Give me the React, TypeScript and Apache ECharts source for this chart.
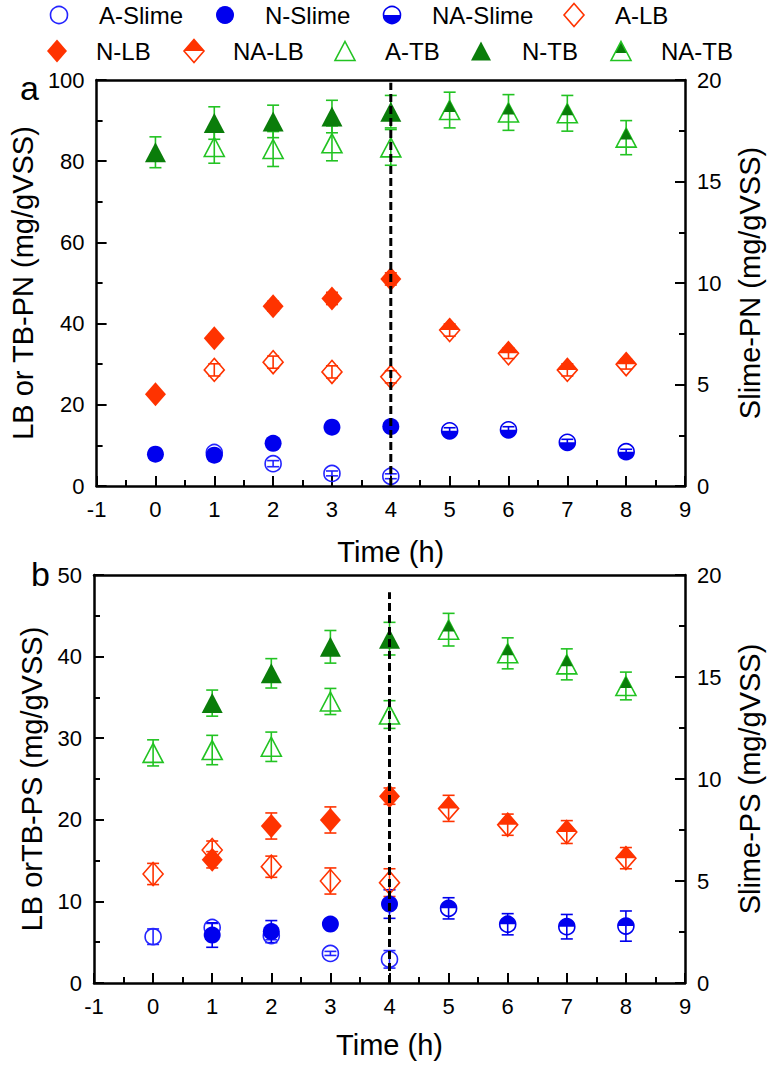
import React, { useEffect, useRef } from 'react';
import * as echarts from 'echarts';

const FONT = 'Liberation Sans, Arial, Helvetica, sans-serif';

const TIME = [0, 1, 2, 3, 4, 5, 6, 7, 8];

// Panel a: PN
const A_SLIME_PN = [null, 1.65, 1.1, 0.62, 0.48, null, null, null, null];
const A_SLIME_PN_ERR = [null, 0.12, 0.15, 0.12, 0.12, null, null, null, null];
const N_SLIME_PN = [1.57, 1.52, 2.1, 2.9, 2.93, null, null, null, null];
const N_SLIME_PN_ERR = [0.1, 0.12, 0.15, 0.12, 0.15, null, null, null, null];
const NA_SLIME_PN = [null, null, null, null, null, 2.72, 2.77, 2.15, 1.69];
const NA_SLIME_PN_ERR = [null, null, null, null, null, 0.15, 0.15, 0.15, 0.12];
const A_LB_PN = [null, 28.6, 30.5, 28.1, 26.9, null, null, null, null];
const A_LB_PN_ERR = [null, 1.5, 1.5, 1.5, 1.5, null, null, null, null];
const N_LB_PN = [22.6, 36.4, 44.3, 46.2, 51.0, null, null, null, null];
const N_LB_PN_ERR = [0.8, 1.0, 1.2, 1.5, 1.5, null, null, null, null];
const NA_LB_PN = [null, null, null, null, null, 38.4, 32.7, 28.6, 30.0];
const NA_LB_PN_ERR = [null, null, null, null, null, 1.5, 1.3, 1.5, 1.2];
const A_TB_PN = [null, 83.5, 83.0, 84.4, 83.4, null, null, null, null];
const A_TB_PN_ERR = [null, 4.0, 4.3, 4.3, 4.4, null, null, null, null];
const N_TB_PN = [82.2, 89.4, 89.8, 91.0, 92.2, null, null, null, null];
const N_TB_PN_ERR = [3.8, 4.0, 4.0, 4.0, 4.0, null, null, null, null];
const NA_TB_PN = [null, null, null, null, null, 92.6, 92.0, 91.8, 85.8];
const NA_TB_PN_ERR = [null, null, null, null, null, 4.4, 4.4, 4.4, 4.2];

// Panel b: PS
const A_SLIME_PS = [2.27, 2.72, 2.32, 1.45, 1.16, null, null, null, null];
const A_SLIME_PS_ERR = [0.38, 0.2, 0.2, 0.1, 0.43, null, null, null, null];
const N_SLIME_PS = [null, 2.35, 2.52, 2.89, 3.87, null, null, null, null];
const N_SLIME_PS_ERR = [null, 0.6, 0.54, 0.2, 0.7, null, null, null, null];
const NA_SLIME_PS = [null, null, null, null, null, 3.66, 2.88, 2.76, 2.79];
const NA_SLIME_PS_ERR = [null, null, null, null, null, 0.52, 0.52, 0.6, 0.74];
const A_LB_PS = [13.36, 16.3, 14.25, 12.5, 12.3, null, null, null, null];
const A_LB_PS_ERR = [1.3, 1.1, 1.3, 1.6, 1.7, null, null, null, null];
const N_LB_PS = [null, 15.1, 19.24, 19.98, 22.9, null, null, null, null];
const N_LB_PS_ERR = [null, 1.0, 1.6, 1.6, 1.0, null, null, null, null];
const NA_LB_PS = [null, null, null, null, null, 21.4, 19.4, 18.5, 15.3];
const NA_LB_PS_ERR = [null, null, null, null, null, 1.6, 1.3, 1.4, 1.3];
const A_TB_PS = [28.2, 28.55, 28.95, 34.5, 32.9, null, null, null, null];
const A_TB_PS_ERR = [1.6, 1.8, 1.8, 1.6, 1.7, null, null, null, null];
const N_TB_PS = [null, 34.3, 37.95, 41.2, 42.2, null, null, null, null];
const N_TB_PS_ERR = [null, 1.6, 1.8, 2.0, 2.0, null, null, null, null];
const NA_TB_PS = [null, null, null, null, null, 43.3, 40.4, 39.05, 36.4];
const NA_TB_PS_ERR = [null, null, null, null, null, 2.0, 1.9, 1.9, 1.7];

const MARKER_TIME = 4;
const DASH_TOP_A = 99.3;
const DASH_TOP_B = 47.9;

const BLUE_L = '#2424ff';
const BLUE = '#0000ee';
const RED = '#ff3300';
const GREEN_L = '#22c322';
const GREEN_D = '#0a7d0a';
const TRANSPARENT = 'rgba(0,0,0,0)';

const LEGEND_ROW1 = ['A-Slime', 'N-Slime', 'NA-Slime', 'A-LB'];
const LEGEND_ROW2 = ['N-LB', 'NA-LB', 'A-TB', 'N-TB', 'NA-TB'];

function halfDiskPath(top: boolean): string {
  const n = 24;
  const pts: string[] = [];
  for (let i = 0; i <= n; i++) {
    const a = (Math.PI * i) / n;
    const x = 50 + 50 * Math.cos(a);
    const y = top ? 50 - 50 * Math.sin(a) : 50 * Math.sin(a);
    pts.push(x.toFixed(3) + ',' + y.toFixed(3));
  }
  return 'path://M' + pts.join(' L') + ' Z';
}

const toPts = (vals: (number | null)[]) =>
  TIME.map((t, i) => (vals[i] == null ? null : [t, vals[i]])).filter((d) => d !== null);

const toErr = (vals: (number | null)[], errs: (number | null)[]) =>
  TIME.map((t, i) => (vals[i] == null || errs[i] == null ? null : [t, vals[i], errs[i]])).filter(
    (d) => d !== null
  );

function errSeries(vals: any, errs: any, xi: number, yi: number, color: string) {
  return {
    type: 'custom',
    xAxisIndex: xi,
    yAxisIndex: yi,
    z: 0,
    silent: true,
    data: toErr(vals, errs),
    encode: { x: 0, y: 1 },
    renderItem: (params: any, api: any) => {
      const x = api.value(0);
      const y = api.value(1);
      const e = api.value(2);
      const top = api.coord([x, y + e]);
      const bot = api.coord([x, y - e]);
      const hw = 6;
      const st = { stroke: color, lineWidth: 1.6 };
      return {
        type: 'group',
        children: [
          { type: 'line', shape: { x1: top[0], y1: top[1], x2: bot[0], y2: bot[1] }, style: st },
          { type: 'line', shape: { x1: top[0] - hw, y1: top[1], x2: top[0] + hw, y2: top[1] }, style: st },
          { type: 'line', shape: { x1: bot[0] - hw, y1: bot[1], x2: bot[0] + hw, y2: bot[1] }, style: st },
        ],
      };
    },
  };
}

function sc(name: string, vals: any, xi: number, yi: number, symbol: string, size: any, itemStyle: any, z: number, extra: any = {}) {
  return {
    type: 'scatter',
    name,
    xAxisIndex: xi,
    yAxisIndex: yi,
    data: toPts(vals),
    symbol,
    symbolSize: size,
    itemStyle: { opacity: 1, ...itemStyle },
    z,
    silent: true,
    ...extra,
  };
}

const hollow = (c: string) => ({ color: TRANSPARENT, borderColor: c, borderWidth: 1.6 });
const filled = (c: string) => ({ color: c, borderWidth: 0 });

function panelSeries(xi: number, yl: number, yr: number, d: any, slimeTopFill: boolean) {
  const s: any[] = [];
  // error bars first (lowest z)
  s.push(errSeries(d.aS, d.aSe, xi, yr, BLUE_L));
  s.push(errSeries(d.nS, d.nSe, xi, yr, BLUE));
  s.push(errSeries(d.naS, d.naSe, xi, yr, BLUE));
  s.push(errSeries(d.aL, d.aLe, xi, yl, RED));
  s.push(errSeries(d.nL, d.nLe, xi, yl, RED));
  s.push(errSeries(d.naL, d.naLe, xi, yl, RED));
  s.push(errSeries(d.aT, d.aTe, xi, yl, GREEN_L));
  s.push(errSeries(d.nT, d.nTe, xi, yl, GREEN_L));
  s.push(errSeries(d.naT, d.naTe, xi, yl, GREEN_L));
  // markers
  s.push(sc('A-Slime', d.aS, xi, yr, 'circle', 16, hollow(BLUE_L), 5));
  s.push(sc('N-Slime', d.nS, xi, yr, 'circle', 17, filled(BLUE), 6));
  s.push(sc('NA-Slime', d.naS, xi, yr, 'circle', 16, hollow(BLUE), 6));
  s.push(
    sc('NA-Slime fill', d.naS, xi, yr, halfDiskPath(slimeTopFill), [16, 8], filled(BLUE), 6, {
      symbolOffset: [0, slimeTopFill ? -4 : 4],
    })
  );
  s.push(sc('A-LB', d.aL, xi, yl, 'diamond', [20, 23], hollow(RED), 5));
  s.push(sc('N-LB', d.nL, xi, yl, 'diamond', [21, 24], filled(RED), 6));
  s.push(sc('NA-LB', d.naL, xi, yl, 'diamond', [20, 23], hollow(RED), 6));
  s.push(
    sc('NA-LB fill', d.naL, xi, yl, 'path://M0,50 L50,0 L100,50 Z', [20, 11.5], filled(RED), 6, {
      symbolOffset: [0, -5.75],
    })
  );
  s.push(sc('A-TB', d.aT, xi, yl, 'triangle', [20, 19], hollow(GREEN_L), 5));
  s.push(sc('N-TB', d.nT, xi, yl, 'triangle', [21, 20], filled(GREEN_D), 6));
  s.push(sc('NA-TB', d.naT, xi, yl, 'triangle', [20, 19], hollow(GREEN_L), 6));
  s.push(
    sc('NA-TB fill', d.naT, xi, yl, 'triangle', [12, 11.4], filled(GREEN_D), 6, {
      symbolOffset: [0, -3.8],
    })
  );
  return s;
}

function dashSeries(xi: number, yi: number, top: number) {
  return {
    type: 'line',
    xAxisIndex: xi,
    yAxisIndex: yi,
    data: [
      [MARKER_TIME, 0],
      [MARKER_TIME, top],
    ],
    symbol: 'none',
    silent: true,
    z: 10,
    lineStyle: { color: '#000', width: 3, type: [8, 4] },
  };
}

function legendGraphics() {
  const g: any[] = [];
  const txt = (x: number, y: number, s: string) => ({
    type: 'text',
    x,
    y,
    style: { text: s, fontSize: 24, fontFamily: FONT, fill: '#000', verticalAlign: 'middle', align: 'left' },
  });
  const y1 = 15;
  const y2 = 51;
  const r = 8.5;
  const diamond = (cx: number, cy: number) => [
    [cx, cy - 11.5],
    [cx + 10, cy],
    [cx, cy + 11.5],
    [cx - 10, cy],
  ];
  const tri = (cx: number, cy: number) => [
    [cx, cy - 9.5],
    [cx + 10, cy + 9.5],
    [cx - 10, cy + 9.5],
  ];
  // row 1
  g.push({ type: 'circle', shape: { cx: 59, cy: y1, r }, style: { fill: TRANSPARENT, stroke: BLUE_L, lineWidth: 1.6 } });
  g.push(txt(99, y1, LEGEND_ROW1[0]));
  g.push({ type: 'circle', shape: { cx: 225, cy: y1, r: 9 }, style: { fill: BLUE } });
  g.push(txt(265, y1, LEGEND_ROW1[1]));
  g.push({ type: 'sector', shape: { cx: 392, cy: y1, r, startAngle: 0, endAngle: Math.PI, clockwise: true }, style: { fill: BLUE } });
  g.push({ type: 'circle', shape: { cx: 392, cy: y1, r }, style: { fill: TRANSPARENT, stroke: BLUE, lineWidth: 1.6 } });
  g.push(txt(432, y1, LEGEND_ROW1[2]));
  g.push({ type: 'polygon', shape: { points: diamond(574, y1) }, style: { fill: TRANSPARENT, stroke: RED, lineWidth: 1.6 } });
  g.push(txt(615, y1, LEGEND_ROW1[3]));
  // row 2
  g.push({ type: 'polygon', shape: { points: diamond(57, y2) }, style: { fill: RED } });
  g.push(txt(96, y2, LEGEND_ROW2[0]));
  g.push({ type: 'polygon', shape: { points: [[184, y2], [194, y2 - 11.5], [204, y2]] }, style: { fill: RED } });
  g.push({ type: 'polygon', shape: { points: diamond(194, y2) }, style: { fill: TRANSPARENT, stroke: RED, lineWidth: 1.6 } });
  g.push(txt(233, y2, LEGEND_ROW2[1]));
  g.push({ type: 'polygon', shape: { points: tri(345, y2) }, style: { fill: TRANSPARENT, stroke: GREEN_L, lineWidth: 1.6 } });
  g.push(txt(385, y2, LEGEND_ROW2[2]));
  g.push({ type: 'polygon', shape: { points: tri(481, y2) }, style: { fill: GREEN_D } });
  g.push(txt(522, y2, LEGEND_ROW2[3]));
  g.push({ type: 'polygon', shape: { points: [[621, y2 - 9.5], [627, y2 + 1.9], [615, y2 + 1.9]] }, style: { fill: GREEN_D } });
  g.push({ type: 'polygon', shape: { points: tri(621, y2) }, style: { fill: TRANSPARENT, stroke: GREEN_L, lineWidth: 1.6 } });
  g.push(txt(661, y2, LEGEND_ROW2[4]));
  // panel letters
  g.push({ type: 'text', x: 20, y: 88, style: { text: 'a', fontSize: 34, fontFamily: FONT, fill: '#000', verticalAlign: 'middle' } });
  g.push({ type: 'text', x: 31, y: 574, style: { text: 'b', fontSize: 34, fontFamily: FONT, fill: '#000', verticalAlign: 'middle' } });
  return g;
}

export default function App() {
  const ref = useRef<HTMLDivElement>(null);
  useEffect(() => {
    if (!ref.current) return;
    const chart = echarts.init(ref.current, null, { renderer: 'svg' });

    const axisLine = { show: true, onZero: false, lineStyle: { color: '#000', width: 2.5 } };
    const tick = { show: true, inside: true, length: 10, lineStyle: { color: '#000', width: 2 } };
    const minor = { show: true, splitNumber: 2, length: 6, lineStyle: { color: '#000', width: 2 } };
    const label = { color: '#000', fontSize: 22, fontFamily: FONT };
    const nameStyle = { color: '#000', fontSize: 29, fontFamily: FONT };

    const xBottom = (gi: number, gap: number) => ({
      type: 'value',
      gridIndex: gi,
      min: -1,
      max: 9,
      interval: 1,
      position: 'bottom',
      axisLine,
      axisTick: tick,
      minorTick: minor,
      axisLabel: { ...label, margin: 12 },
      splitLine: { show: false },
      minorSplitLine: { show: false },
      name: 'Time (h)',
      nameLocation: 'middle',
      nameGap: gap,
      nameTextStyle: nameStyle,
    });
    const xTop = (gi: number) => ({
      type: 'value',
      gridIndex: gi,
      min: -1,
      max: 9,
      interval: 1,
      position: 'top',
      axisLine,
      axisTick: { show: false },
      axisLabel: { show: false },
      splitLine: { show: false },
    });
    const yAx = (gi: number, pos: string, max: number, interval: number, name: string, gap: number) => ({
      type: 'value',
      gridIndex: gi,
      position: pos,
      min: 0,
      max,
      interval,
      axisLine,
      axisTick: tick,
      minorTick: minor,
      axisLabel: { ...label, margin: 12 },
      splitLine: { show: false },
      minorSplitLine: { show: false },
      name,
      nameLocation: 'middle',
      nameRotate: 90,
      nameGap: gap,
      nameTextStyle: nameStyle,
    });

    const dA = {
      aS: A_SLIME_PN, aSe: A_SLIME_PN_ERR, nS: N_SLIME_PN, nSe: N_SLIME_PN_ERR, naS: NA_SLIME_PN, naSe: NA_SLIME_PN_ERR,
      aL: A_LB_PN, aLe: A_LB_PN_ERR, nL: N_LB_PN, nLe: N_LB_PN_ERR, naL: NA_LB_PN, naLe: NA_LB_PN_ERR,
      aT: A_TB_PN, aTe: A_TB_PN_ERR, nT: N_TB_PN, nTe: N_TB_PN_ERR, naT: NA_TB_PN, naTe: NA_TB_PN_ERR,
    };
    const dB = {
      aS: A_SLIME_PS, aSe: A_SLIME_PS_ERR, nS: N_SLIME_PS, nSe: N_SLIME_PS_ERR, naS: NA_SLIME_PS, naSe: NA_SLIME_PS_ERR,
      aL: A_LB_PS, aLe: A_LB_PS_ERR, nL: N_LB_PS, nLe: N_LB_PS_ERR, naL: NA_LB_PS, naLe: NA_LB_PS_ERR,
      aT: A_TB_PS, aTe: A_TB_PS_ERR, nT: N_TB_PS, nTe: N_TB_PS_ERR, naT: NA_TB_PS, naTe: NA_TB_PS_ERR,
    };

    const option: any = {
      animation: false,
      backgroundColor: '#fff',
      textStyle: { fontFamily: FONT },
      grid: [
        { left: 94, top: 80, width: 591, height: 406 },
        { left: 94, top: 575, width: 591, height: 408 },
      ],
      xAxis: [xBottom(0, 51), xTop(0), xBottom(1, 47), xTop(1)],
      yAxis: [
        yAx(0, 'left', 100, 20, 'LB or TB-PN (mg/gVSS)', 46),
        yAx(0, 'right', 20, 5, 'Slime-PN (mg/gVSS)', 50),
        yAx(1, 'left', 50, 10, 'LB orTB-PS (mg/gVSS)', 46),
        yAx(1, 'right', 20, 5, 'Slime-PS (mg/gVSS)', 50),
      ],
      graphic: legendGraphics(),
      series: [
        ...panelSeries(0, 0, 1, dA, false),
        dashSeries(0, 0, DASH_TOP_A),
        ...panelSeries(2, 2, 3, dB, true),
        dashSeries(2, 2, DASH_TOP_B),
      ],
    };
    chart.setOption(option);
    return () => chart.dispose();
  }, []);
  return <div ref={ref} style={{ position: 'absolute', left: 0, top: 0, width: 774, height: 1066 }} />;
}
